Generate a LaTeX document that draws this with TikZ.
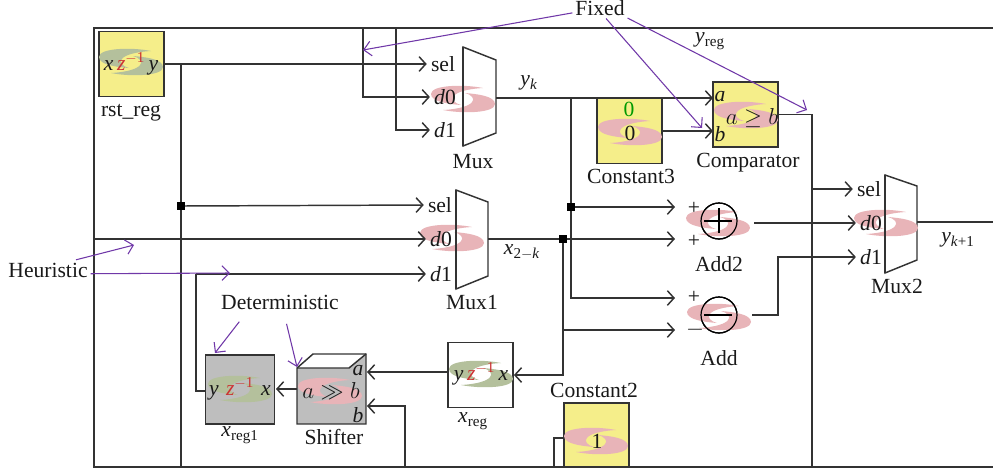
\documentclass[tikz,border=0pt]{standalone}
\usepackage{fontspec}
\setmainfont{Liberation Serif}
\usetikzlibrary{arrows.meta}
\definecolor{blockyellow}{HTML}{F5EE8A}
\definecolor{blockgray}{HTML}{BEBEBE}
\definecolor{swirlpink}{HTML}{E8B4B8}
\definecolor{swirlgreen}{HTML}{B4C09C}
\definecolor{notepurple}{HTML}{7038A8}
\definecolor{zred}{HTML}{CC3333}
\tikzset{
  wire/.style={line width=1.1pt,draw=black!80},
  sig/.style={wire,-{Straight Barb[length=5pt,width=11pt]}},
  note/.style={line width=0.8pt,draw=notepurple,-{Straight Barb[length=5.5pt,width=11pt]}},
  block/.style={rectangle,draw=black!80,line width=1.1pt,minimum size=49pt,inner sep=0pt},
  sumnode/.style={circle,draw=black,line width=0.9pt,minimum size=27pt,inner sep=0pt},
  junct/.style={rectangle,fill=black,minimum size=5.5pt,inner sep=0pt},
  txt/.style={inner sep=0pt,font=\fontsize{16.2}{19}\selectfont,text=black!90},
  port/.style={txt,inner sep=3pt},
  swirl/.pic={
    \foreach \r in {0,180}
      \fill[pic actions,rotate=\r] (20,-11) .. controls (0,-15) and (-32,-14) .. (-32,-5)
        .. controls (-32,3) and (-14,5) .. (-2,6)
        .. controls (-16,2) and (-14,-9) .. (20,-11) -- cycle;
  }
}
\newcommand{\zinv}{\textcolor{zred}{\textit{z}\textsuperscript{$-$1}}}
\begin{document}
\begin{tikzpicture}[x=0.75pt,y=-0.75pt]
  \useasboundingbox (0,0) rectangle (993,469);
  % frame
  \draw[wire] (993,28) -- (94,28) -- (94,467) -- (993,467);
  \coordinate (topa) at (363,28);
  \coordinate (topb) at (396,28);
  \coordinate (bota) at (181,467);
  \coordinate (botb) at (405,467);
  \coordinate (botc) at (554,467);
  \coordinate (botd) at (812,467);
  \coordinate (lefta) at (94,239);
  % muxes
  \draw[wire] (463,47) -- (496,60) -- (496,133) -- (463,146) -- cycle;
  \draw[wire] (456,190) -- (488,202) -- (488,276) -- (456,289) -- cycle;
  \draw[wire] (885,175) -- (917,186) -- (917,260) -- (885,273) -- cycle;
  \coordinate (muxout) at (496,98);
  \coordinate (muxoneout) at (488,239);
  \coordinate (muxtwoout) at (917,222);
  \coordinate (rightout) at (993,222);
  % blocks
  \node[block,fill=blockyellow] (rstreg) at (131.5,64) {};
  \node[block,fill=blockyellow] (constthree) at (629.5,131) {};
  \node[block,fill=blockyellow] (comparator) at (745.5,114.5) {};
  \node[block,fill=blockyellow,minimum height=48pt] (consttwo) at (596.5,435) {};
  \node[block,fill=white] (xreg) at (480.5,375) {};
  \node[block,fill=blockgray,minimum size=52pt] (xregone) at (240,389.5) {};
  \node[block,draw=none,fill=blockgray,minimum width=52pt,minimum height=42pt] (shifter) at (331.5,396) {};
  \fill[blockgray] (349,368) -- (366,354) -- (366,368) -- cycle;
  \fill[white] (297,368) -- (313,354) -- (366,354) -- (349,368) -- cycle;
  \draw[wire] (297,424) -- (297,368) -- (313,354) -- (366,354) -- (366,424) -- cycle;
  \draw[wire] (297,368) -- (349,368) -- (366,354);
  \node[sumnode] (addtwo) at (719,221) {};
  \node[sumnode] (add) at (719,315) {};
  % swirls
  \foreach \px/\py in {463/99,452/238,886/223,630/132,746/115,718/223,719/317,596/441,330/391}
    \pic[fill=swirlpink] at (\px,\py) {swirl};
  \foreach \px/\py in {131/62,240/389,481/374}
    \pic[fill=swirlgreen] at (\px,\py) {swirl};
  \draw[wire] (463,47) -- (463,146);
  \draw[wire] (885,175) -- (885,273);
  \draw[wire] (456,190) -- (456,289);
  \node[sumnode] at (addtwo) {};
  \node[sumnode] at (add) {};
  \draw[line width=0.9pt] (704,221) -- (732,221) (719,208) -- (719,233);
  \draw[line width=0.9pt] (704,315) -- (732,315);
  % ports
  \node[port] (muxsel) at (443,64) {sel};
  \node[port] (muxa) at (445,97) {\textit{d}0};
  \node[port] (muxb) at (445,130) {\textit{d}1};
  \node[port] (muxonesel) at (440,205) {sel};
  \node[port] (muxonea) at (441,239) {\textit{d}0};
  \node[port] (muxoneb) at (441,274) {\textit{d}1};
  \node[port] (muxtwosel) at (869,189) {sel};
  \node[port] (muxtwoa) at (871,223) {\textit{d}0};
  \node[port] (muxtwob) at (871,257) {\textit{d}1};
  \coordinate (compa) at (713,98);
  \coordinate (compb) at (713,131);
  \coordinate (addtwoa) at (675,207);
  \coordinate (addtwob) at (675,239);
  \coordinate (adda) at (675,298);
  \coordinate (addb) at (675,330);
  \coordinate (addtwoout) at (754,223);
  \coordinate (addout) at (752,315);
  \coordinate (shifterina) at (367,372);
  \coordinate (shifterinb) at (367,406);
  \coordinate (shifterout) at (297,389);
  \coordinate (xregoneout) at (205,391);
  \coordinate (xregonein) at (276,389);
  \coordinate (xregout) at (448,372);
  \coordinate (feedback) at (196,274);
  \coordinate (consttwoout) at (564,438);
  % wires
  \coordinate (juncrst) at (181,206);
  \coordinate (juncx) at (563,239);
  \coordinate (juncy) at (571,207);
  \coordinate (sely) at (812,189);
  \coordinate (brancha) at (571,98);
  \coordinate (branchb) at (563,330);
  \draw[sig] (rstreg.east) -- (muxsel.west);
  \draw[wire] (rstreg.east -| bota) -- (bota);
  \draw[sig] (juncrst) -- (muxonesel.west);
  \draw[sig] (topa) |- (muxa.west);
  \draw[sig] (topb) |- (muxb.west);
  \draw[sig] (lefta) -- (muxonea.west);
  \draw[sig] (muxout) -- (compa);
  \draw[sig] (brancha) |- (adda);
  \draw[sig] (juncy) -- (addtwoa);
  \draw[sig] (constthree.east) -- (compb);
  \draw[wire] (comparator.east) -| (botd);
  \draw[sig] (sely) -- (muxtwosel.west);
  \draw[sig] (addtwoout) -- (muxtwoa.west);
  \draw[sig] (addout) -- ++(26,0) |- (muxtwob.west);
  \draw[wire] (muxtwoout) -- (rightout);
  \draw[sig] (muxoneout) -- (addtwob);
  \draw[wire] (juncx) -- (branchb);
  \draw[sig] (branchb) -- (addb);
  \draw[sig] (juncx) |- (xreg.east);
  \draw[sig] (xregout) -- (shifterina);
  \draw[sig] (botb) |- (shifterinb);
  \draw[sig] (shifterout) -- (xregonein);
  \draw[wire] (xregoneout) -| (feedback);
  \draw[sig] (feedback) -- (muxoneb.west);
  \draw[wire] (botc) |- (consttwoout);
  \node[junct] at (juncrst) {};
  \node[junct] at (juncx) {};
  \node[junct] at (juncy) {};
  % texts in the blocks
  \node[txt] (rstregtxt) at (131,64) {\textit{x}\,\zinv\,\textit{y}};
  \node[txt] (xregonetxt) at (240,389) {\textit{y}\,\,\zinv\,\,\textit{x}};
  \node[txt] (xregtxt) at (481,374) {\textit{y}\,\zinv\,\textit{x}};
  \node[txt,text=green!60!black] (constzero) at (629,109) {0};
  \node[txt] (constval) at (630,133) {0};
  \node[txt] (consttwoval) at (597,441) {1};
  \node[txt] (compval) at (752,118) {$a \geq b$};
  \node[txt] (compatxt) at (720,97) {\textit{a}};
  \node[txt] (compbtxt) at (720,134) {\textit{b}};
  \node[txt] (shiftval) at (331,391) {$a \gg b$};
  \node[txt] (shifta) at (358,371) {\textit{a}};
  \node[txt] (shiftb) at (358,415) {\textit{b}};
  \node[txt] (plusa) at (694,208) {+};
  \node[txt] (plusb) at (694,241) {+};
  \node[txt] (plusc) at (694,297) {+};
  \node[txt] (minusa) at (695,330) {$-$};
  % labels
  \node[txt] (rstreglab) at (131,113) {rst\_reg};
  \node[txt] (muxlab) at (473,162) {Mux};
  \node[txt] (muxonelab) at (472,302) {Mux1};
  \node[txt] (muxtwolab) at (897,286) {Mux2};
  \node[txt] (constthreelab) at (631,176) {Constant3};
  \node[txt] (consttwolab) at (594,390) {Constant2};
  \node[txt] (complab) at (748,163) {Comparator};
  \node[txt] (addtwolab) at (719,264) {Add2};
  \node[txt] (addlab) at (719,358) {Add};
  \node[txt] (shifterlab) at (334,437) {Shifter};
  \node[txt] (xregonelab) at (240,435) {\textit{x}\textsubscript{reg1}};
  \node[txt] (xreglab) at (473,421) {\textit{x}\textsubscript{reg}};
  \node[txt] (yklab) at (529,83) {\textit{y}\textsubscript{\textit{k}}};
  \node[txt] (xtwolab) at (522,252) {\textit{x}\textsubscript{2$-$\textit{k}}};
  \node[txt] (ynextlab) at (958,240) {\textit{y}\textsubscript{\textit{k}+1}};
  \node[txt] (yreglab) at (710,41) {\textit{y}\textsubscript{reg}};
  % notes
  \node[txt,inner sep=2pt] (fixed) at (600,8) {Fixed};
  \node[txt,inner sep=2pt] (heuristic) at (48,270) {Heuristic};
  \node[txt,inner sep=2pt] (determ) at (280,302) {Deterministic};
  \coordinate (fixeda) at (363,50);
  \coordinate (fixedb) at (702,128);
  \coordinate (fixedc) at (807,110);
  \coordinate (heura) at (134,245);
  \coordinate (heurb) at (230,273);
  \coordinate (deta) at (215,353);
  \coordinate (detb) at (297,367);
  \draw[note] (fixed.-170) -- (fixeda);
  \draw[note] (fixed.-60) -- (fixedb);
  \draw[note] (fixed.-20) -- (fixedc);
  \draw[note] (heuristic.20) -- (heura);
  \draw[note] (heuristic.-5) -- (heurb);
  \draw[note,shorten <=9pt] (determ.-163) -- (deta);
  \draw[note,shorten <=9pt] (determ.-70) -- (detb);
\end{tikzpicture}
\end{document}
